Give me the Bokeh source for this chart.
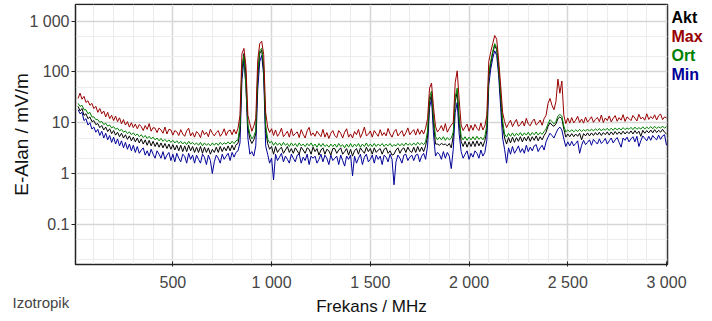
from bokeh.plotting import figure
from bokeh.models import FixedTicker, CustomJSTickFormatter, Range1d, ColumnDataSource
from bokeh.core.properties import value
from bokeh.embed import file_html
from bokeh.resources import INLINE

freq_mhz = list(range(20, 3001, 10))

mx = [
    30, 38, 29, 33, 25, 27, 22, 24, 19, 21,
    16, 19, 15, 17, 13, 16, 12, 14, 11, 13.5,
    10.5, 12.5, 9.5, 11.5, 9, 10.5, 8.2, 10, 8.0, 9.4,
    7.6, 9.2, 8.4, 7.0, 8.8, 7.4, 9.6, 6.8, 8.0, 7.8,
    6.4, 7.9, 7.2, 6.2, 8.2, 6.0, 7.4, 7.2, 5.7, 7.0,
    6.6, 5.6, 7.3, 6.0, 5.4, 6.9, 7.8, 5.5, 6.4, 5.2,
    6.7, 6.1, 5.1, 7.1, 5.8, 6.5, 5.3, 7.4, 6.2, 5.5,
    6.4, 7.0, 5.4, 6.1, 7.6, 5.6, 6.8, 7.2, 5.8, 7.4,
    6.0, 7.8, 14, 230, 290, 130, 14, 9.5, 6.8, 8.6,
    12, 170, 360, 400, 220, 16, 8.2, 6.4, 7.6, 5.6,
    7.2, 5.4, 6.2, 7.8, 5.3, 5.9, 6.8, 5.2, 7.6, 5.5,
    6.1, 6.6, 5.1, 7.3, 5.9, 5.0, 6.9, 8.1, 5.6, 6.3,
    5.4, 6.8, 6.0, 5.3, 7.4, 5.2, 6.4, 4.9, 6.2, 7.0,
    5.6, 5.1, 7.0, 6.2, 5.0, 6.5, 7.6, 5.2, 6.0, 5.0,
    6.7, 5.8, 7.4, 5.1, 6.2, 8.2, 5.5, 5.9, 6.9, 5.2,
    7.0, 6.1, 5.4, 7.3, 5.6, 6.4, 5.5, 7.7, 6.0, 5.2,
    6.6, 7.4, 5.5, 6.2, 7.0, 5.4, 6.3, 7.9, 5.8, 6.6,
    7.3, 5.7, 7.6, 5.9, 7.2, 6.0, 7.8, 12, 48, 60,
    20, 8.5, 6.6, 7.4, 8.8, 6.9, 9.6, 6.5, 7.8, 9.0,
    10, 62, 105, 28, 9.0, 7.0, 8.2, 9.4, 6.8, 8.9,
    7.1, 9.3, 7.8, 7.0, 9.9, 7.2, 8.6, 14, 160, 250,
    360, 520, 440, 170, 55, 16, 10.5, 8.0, 9.6, 11.2,
    8.4, 10.0, 11.6, 8.5, 9.2, 10.8, 8.6, 12.2, 9.4, 8.7,
    10.6, 11.8, 9.0, 9.8, 11.3, 8.9, 12.0, 14, 24, 30,
    22, 18, 26, 72, 38, 66, 14, 9.6, 12.4, 9.8,
    12.6, 9.9, 11.2, 13.4, 10.1, 11.8, 9.8, 12.9, 10.3, 11.5,
    13.1, 10.2, 11.6, 12.7, 10.5, 14.2, 10.1, 12.4, 11.0, 13.6,
    10.4, 12.2, 13.8, 10.7, 12.6, 11.2, 14.4, 10.6, 13.0, 12.1,
    11.0, 13.9, 12.3, 10.8, 14.6, 11.9, 12.8, 11.2, 15.0, 11.6,
    13.2, 12.0, 14.3, 11.3, 13.7, 14.8, 11.5, 13.0, 12.4,
]

ort = [
    24, 21, 22, 18, 18, 15, 16, 13, 13, 11.5,
    11.5, 10.2, 10.6, 9.2, 9.8, 8.6, 9.0, 7.9, 8.4, 7.4,
    7.8, 6.9, 7.4, 6.5, 6.9, 6.1, 6.6, 5.8, 6.3, 5.6,
    6.0, 5.3, 5.8, 5.1, 5.6, 4.9, 5.4, 4.8, 5.2, 4.6,
    5.0, 4.4, 4.9, 4.3, 4.7, 4.2, 4.6, 4.1, 4.5, 4.0,
    4.4, 3.9, 4.3, 3.8, 4.2, 3.7, 4.3, 3.8, 4.1, 3.7,
    4.0, 3.6, 4.1, 3.5, 4.0, 3.6, 3.9, 3.5, 4.0, 3.6,
    4.0, 3.6, 4.1, 3.7, 4.0, 3.8, 4.2, 3.8, 4.3, 3.9,
    4.4, 4.6, 9, 130, 210, 50, 9, 6.0, 4.8, 5.4,
    7, 100, 260, 290, 130, 9, 4.8, 4.0, 4.3, 3.6,
    4.1, 3.6, 4.0, 3.5, 4.1, 3.6, 3.9, 3.4, 4.0, 3.5,
    3.9, 3.4, 4.0, 3.5, 3.8, 3.4, 3.9, 3.5, 4.0, 3.4,
    3.8, 3.3, 3.9, 3.4, 3.9, 3.4, 3.7, 3.3, 3.8, 3.4,
    3.8, 3.3, 3.9, 3.4, 3.7, 3.2, 3.8, 3.3, 3.9, 3.3,
    3.8, 3.4, 3.9, 3.3, 3.8, 3.4, 4.0, 3.4, 3.8, 3.4,
    3.9, 3.4, 3.8, 3.5, 3.9, 3.4, 3.8, 3.5, 3.9, 3.4,
    3.7, 3.5, 3.9, 3.5, 3.9, 3.5, 4.0, 3.6, 3.9, 3.6,
    4.0, 3.6, 4.1, 3.7, 4.0, 3.7, 4.2, 7, 32, 42,
    13, 5.4, 4.6, 5.2, 4.6, 5.3, 4.5, 5.1, 4.6, 5.0,
    6.5, 32, 48, 13, 5.4, 4.6, 5.3, 4.5, 5.2, 4.6,
    5.3, 4.6, 5.4, 4.7, 5.2, 4.6, 5.4, 9, 95, 165,
    255, 360, 300, 125, 36, 11, 6.0, 5.2, 6.2, 5.4,
    6.3, 5.4, 6.2, 5.6, 6.4, 5.5, 6.3, 5.7, 6.5, 5.6,
    6.4, 5.8, 6.6, 5.7, 6.4, 5.9, 6.7, 7.5, 9.5, 11.5,
    10.5, 9.5, 10.5, 13.5, 14.5, 13.5, 8.5, 6.6, 7.2, 6.6,
    7.3, 6.6, 7.2, 6.7, 7.4, 6.7, 7.3, 6.8, 7.5, 6.8,
    7.5, 6.9, 7.6, 7.0, 7.7, 6.9, 7.6, 7.1, 7.8, 7.0,
    7.8, 7.1, 7.9, 7.2, 7.8, 7.2, 8.0, 7.3, 7.9, 7.4,
    8.1, 7.3, 8.2, 7.4, 8.0, 7.5, 8.3, 7.5, 8.2, 7.6,
    8.4, 7.6, 8.5, 7.7, 8.3, 7.8, 8.6, 7.8, 8.4,
]

akt = [
    21, 17, 19, 14, 15, 12, 13, 10.5, 11, 9.2,
    9.6, 8.0, 8.8, 7.2, 8.2, 6.7, 7.6, 6.1, 7.0, 5.7,
    6.5, 5.3, 6.2, 5.0, 5.8, 4.7, 5.5, 4.4, 5.2, 4.2,
    5.0, 4.0, 4.8, 3.8, 4.6, 3.6, 4.5, 3.5, 4.3, 3.4,
    4.1, 3.3, 4.0, 3.2, 3.9, 3.1, 3.8, 3.0, 3.7, 2.9,
    3.6, 2.8, 3.6, 2.7, 3.5, 2.7, 3.6, 2.8, 3.4, 2.6,
    3.3, 2.6, 3.4, 2.5, 3.3, 2.6, 3.2, 2.4, 3.0, 2.6,
    3.3, 2.6, 3.4, 2.7, 3.3, 2.8, 3.5, 2.8, 3.6, 2.9,
    3.7, 3.9, 7, 110, 230, 90, 8, 4.8, 3.9, 4.6,
    6, 80, 230, 270, 110, 7, 3.9, 3.0, 3.4, 2.4,
    3.4, 2.6, 3.0, 3.3, 2.5, 2.9, 3.4, 2.6, 3.1, 2.5,
    3.2, 2.8, 2.4, 3.3, 2.9, 2.5, 3.2, 3.0, 2.4, 3.3,
    2.7, 3.1, 2.3, 2.9, 3.2, 2.4, 3.0, 2.8, 2.3, 3.1,
    3.1, 2.5, 2.9, 3.2, 2.4, 2.7, 3.1, 2.3, 3.0, 2.2,
    2.8, 3.1, 2.4, 3.2, 2.8, 2.5, 3.3, 2.7, 3.1, 2.4,
    3.2, 2.6, 2.9, 3.1, 2.4, 3.0, 3.2, 2.5, 2.8, 2.3,
    2.4, 2.9, 3.2, 2.5, 3.0, 3.2, 2.6, 3.3, 2.8, 2.6,
    3.3, 2.6, 3.4, 2.7, 3.3, 2.7, 3.5, 5.5, 26, 36,
    10, 3.8, 3.8, 3.6, 3.9, 3.7, 3.8, 3.5, 3.9, 3.2,
    5.5, 26, 40, 10, 4.3, 3.4, 4.3, 3.3, 4.2, 3.4,
    4.3, 3.4, 4.4, 3.5, 4.2, 3.4, 4.4, 7, 80, 145,
    235, 330, 275, 110, 30, 8.5, 5.0, 3.8, 5.1, 4.0,
    5.2, 4.1, 5.1, 4.3, 5.3, 4.2, 5.2, 4.4, 5.4, 4.3,
    5.3, 4.5, 5.5, 4.4, 5.3, 4.6, 5.6, 6.5, 8.5, 10,
    9, 8.5, 9.5, 12, 13, 12, 7.5, 5.2, 6.0, 5.3,
    6.1, 5.3, 6.0, 5.4, 6.2, 4.6, 6.1, 5.5, 6.3, 5.5,
    6.3, 5.6, 6.4, 5.7, 6.5, 5.6, 6.4, 5.8, 6.6, 5.7,
    6.6, 5.8, 6.7, 5.9, 6.6, 5.9, 6.8, 6.0, 6.7, 6.1,
    6.9, 6.0, 7.0, 6.1, 6.8, 5.4, 7.1, 6.2, 7.0, 6.3,
    7.2, 6.3, 7.3, 6.4, 7.1, 6.5, 7.4, 6.5, 6.0,
]

mn = [
    18, 15, 16, 11, 12, 9, 10, 7.5, 8.2, 6.5,
    7.4, 5.6, 6.8, 5.0, 6.2, 4.6, 5.6, 4.1, 5.2, 3.8,
    4.8, 3.5, 4.4, 3.2, 4.1, 3.0, 3.8, 2.8, 3.6, 2.6,
    3.4, 2.5, 2.9, 3.2, 2.3, 2.8, 2.2, 3.0, 2.4, 2.0,
    2.8, 2.4, 2.0, 2.7, 1.9, 2.3, 2.6, 1.8, 2.4, 1.7,
    2.5, 2.0, 1.7, 2.4, 2.2, 1.6, 2.5, 1.9, 2.3, 1.6,
    2.3, 1.9, 1.6, 2.4, 2.1, 1.5, 2.3, 1.8, 1.0, 1.7,
    2.3, 2.0, 1.6, 2.4, 1.9, 2.2, 2.5, 1.8, 2.6, 2.1,
    2.6, 2.8, 4, 70, 170, 55, 5, 2.4, 2.7, 2.2,
    3.5, 45, 160, 210, 85, 3.5, 2.4, 1.6, 2.0, 0.75,
    2.4, 1.8, 2.1, 2.5, 1.7, 2.2, 1.9, 1.6, 2.4, 2.0,
    1.7, 2.3, 2.4, 1.6, 2.1, 1.8, 2.4, 1.5, 2.2, 2.0,
    2.2, 1.6, 1.9, 2.4, 1.7, 2.3, 2.0, 1.5, 2.3, 1.8,
    2.0, 2.2, 1.5, 2.3, 1.8, 1.4, 2.2, 1.9, 2.3, 0.9,
    2.2, 1.6, 2.0, 2.4, 1.5, 2.1, 2.4, 1.7, 1.9, 2.3,
    1.6, 2.3, 1.9, 2.2, 1.5, 2.3, 2.1, 1.7, 2.4, 1.9,
    0.6, 1.7, 2.3, 2.0, 1.6, 2.3, 2.4, 1.8, 2.1, 2.3,
    1.8, 2.3, 2.4, 1.7, 2.2, 2.5, 1.9, 3.5, 20, 30,
    6, 2.2, 2.6, 2.4, 1.9, 2.7, 2.0, 2.6, 2.2, 1.25,
    3, 16, 25, 6, 2.7, 2.0, 2.4, 2.8, 1.9, 2.5,
    2.1, 2.8, 2.5, 2.0, 2.9, 2.2, 2.6, 4.5, 55, 115,
    185, 260, 210, 85, 20, 5, 3.0, 1.6, 3.2, 2.4,
    3.4, 2.5, 2.9, 3.5, 2.6, 3.1, 2.5, 3.6, 2.7, 3.3,
    2.8, 3.5, 3.7, 2.7, 3.2, 3.6, 2.9, 4.2, 5.2, 6.2,
    5.6, 5.0, 6.2, 7.5, 8.2, 7.2, 4.8, 3.4, 4.2, 3.5,
    4.3, 3.5, 3.9, 4.4, 2.5, 3.6, 4.5, 3.7, 4.1, 4.6,
    3.6, 4.7, 4.2, 3.8, 4.8, 3.9, 4.3, 4.9, 3.8, 4.4,
    5.0, 4.0, 4.6, 5.1, 4.1, 3.3, 5.0, 4.5, 5.2, 4.2,
    4.8, 5.3, 4.2, 5.4, 3.4, 4.4, 5.5, 4.9, 4.4, 5.4,
    4.5, 5.6, 5.0, 4.6, 5.7, 4.7, 5.5, 5.8, 3.6,
]

x_ticks = [500, 1000, 1500, 2000, 2500, 3000]
x_minor = [100, 200, 300, 400, 600, 700, 800, 900, 1100, 1200, 1300, 1400,
           1600, 1700, 1800, 1900, 2100, 2200, 2300, 2400, 2600, 2700, 2800, 2900]
y_ticks = [0.1, 1, 10, 100, 1000]
y_minor = [0.02, 0.05, 0.2, 0.5, 2, 5, 20, 50, 200, 500, 2000]

series_names = ["Akt", "Max", "Ort", "Min"]
series_colors = ["#000000", "#990000", "#008000", "#000099"]

# placement of the outside texts (data space; drawn unclipped at overlay level)
legend_x = 3025
legend_y = [1180, 490, 208, 88]
note_x, note_y = -312, 0.0029

FONT = "Liberation Sans"

p = figure(width=712, height=321, output_backend="svg", toolbar_location=None,
           y_axis_type="log", x_range=Range1d(7, 3005), y_range=Range1d(0.0162, 2120),
           min_border_left=75, min_border_right=45, min_border_top=4, min_border_bottom=57)
p.background_fill_color = "white"
p.border_fill_color = "white"
p.outline_line_color = "#222222"
p.outline_line_width = 1.5

fmt = CustomJSTickFormatter(code="""
const s = Math.round(tick * 1000) / 1000;
if (s >= 1000) {
  const th = Math.floor(s / 1000);
  const r = Math.round(s % 1000);
  return th + ' ' + String(r).padStart(3, '0');
}
return String(s);
""")

p.xaxis.ticker = FixedTicker(ticks=x_ticks, minor_ticks=x_minor)
p.yaxis.ticker = FixedTicker(ticks=y_ticks, minor_ticks=y_minor)
p.xaxis.formatter = fmt
p.yaxis.formatter = fmt

for ax in (p.xaxis, p.yaxis):
    ax.major_label_text_font = FONT
    ax.major_label_text_font_size = "16px"
    ax.major_label_text_color = "#444444"
    ax.axis_label_text_font = FONT
    ax.axis_label_text_font_style = "normal"
    ax.axis_label_text_color = "#111111"
    ax.axis_line_color = "#222222"
    ax.major_tick_line_color = "#222222"
    ax.minor_tick_line_color = None

p.xaxis.axis_label = "Frekans / MHz"
p.xaxis.axis_label_text_font_size = "17px"
p.xaxis.major_tick_in = 3
p.xaxis.major_tick_out = 2
p.xaxis.major_label_standoff = 5
p.xaxis.axis_label_standoff = 3

p.yaxis.axis_label = "E-Alan / mV/m"
p.yaxis.axis_label_text_font_size = "19px"
p.yaxis.major_tick_in = 0
p.yaxis.major_tick_out = 4
p.yaxis.major_label_standoff = 2
p.yaxis.axis_label_standoff = -6

for g in (p.xgrid, p.ygrid):
    g.grid_line_color = "#d6d6d6"
    g.grid_line_width = 1.5
    g.minor_grid_line_color = "#ececec"
    g.minor_grid_line_width = 1

p.line(freq_mhz, mn, line_color=series_colors[3], line_width=1)
p.line(freq_mhz, akt, line_color=series_colors[0], line_width=1)
p.line(freq_mhz, ort, line_color=series_colors[2], line_width=1)
p.line(freq_mhz, mx, line_color=series_colors[1], line_width=1)

leg_src = ColumnDataSource(dict(x=[legend_x] * len(series_names), y=legend_y,
                                t=series_names, c=series_colors))
leg = p.text(x="x", y="y", text="t", text_color="c", source=leg_src,
             text_font=value(FONT), text_font_size="16px", text_font_style="bold",
             text_baseline="middle", text_align="left")
leg.level = "overlay"

note = p.text(x=[note_x], y=[note_y], text=["Izotropik"], text_color="#444444",
              text_font=value(FONT), text_font_size="15px",
              text_baseline="middle", text_align="left")
note.level = "overlay"

open("out.html", "w").write(file_html(p, INLINE))
